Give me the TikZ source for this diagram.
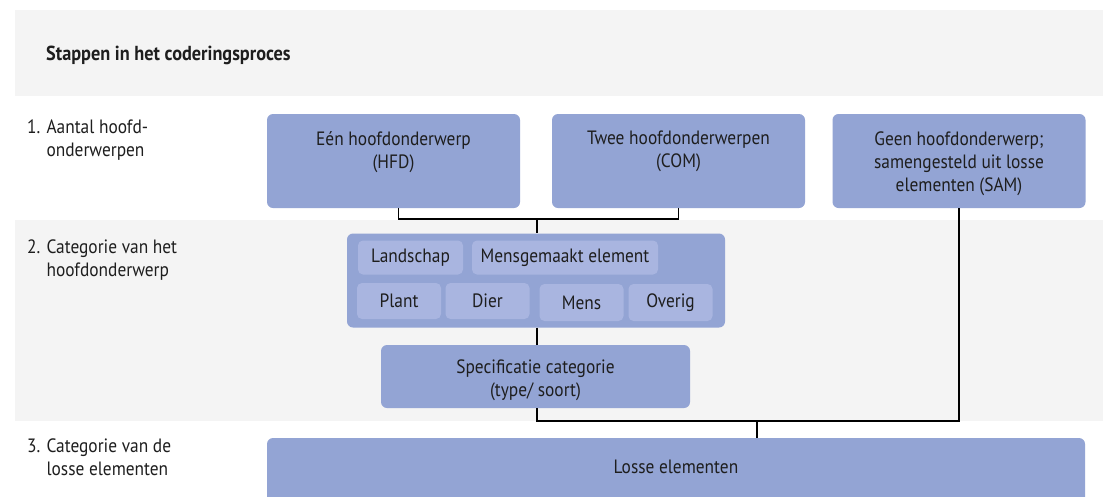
\documentclass[tikz,border=0pt]{standalone}
\usepackage{fontspec}
\setmainfont[FakeStretch=0.9]{PT Sans}
\definecolor{boxc}{RGB}{147,164,212}
\definecolor{innerc}{RGB}{169,181,224}
\definecolor{bandc}{RGB}{244,244,244}
\definecolor{txt}{RGB}{30,30,30}
\begin{document}
\begin{tikzpicture}[x=1pt,y=-1pt,
  every node/.style={font=\fontsize{19.3}{23}\selectfont, text=txt},
  box/.style={fill=boxc, rounded corners=6pt, inner sep=0pt},
  chip/.style={fill=innerc, rounded corners=5pt, inner sep=0pt},
  toptext/.style={anchor=north, align=center, yshift=-14pt},
  steplabel/.style={anchor=north west, align=left, inner sep=0pt},
  conn/.style={draw=black, line width=1.6pt}]
\clip (0,0) rectangle (1103,496);
\fill[white] (0,0) rectangle (1103,496);
% bands
\fill[bandc] (15,10) rectangle (1103,96);
\fill[bandc] (15,220) rectangle (1103,421);
% title
\node[anchor=west, inner sep=0pt, font=\fontsize{20.3}{24}\selectfont\bfseries] (title) at (46,55) {Stappen in het coderingsproces};
% step labels
\node[steplabel] (s1) at (27,120) {1. Aantal hoofd-\\\hphantom{1. }onderwerpen};
\node[steplabel] (s2) at (27,240) {2. Categorie van het\\\hphantom{2. }hoofdonderwerp};
\node[steplabel] (s3) at (27,439) {3. Categorie van de\\\hphantom{3. }losse elementen};
% row 1
\node[box, minimum width=253pt, minimum height=94pt,
  label={[toptext]north:{Eén hoofdonderwerp\\(HFD)}}] (hfd) at (393.5,161) {};
\node[box, minimum width=253pt, minimum height=94pt,
  label={[toptext]north:{Twee hoofdonderwerpen\\(COM)}}] (com) at (678.5,161) {};
\node[box, minimum width=253pt, minimum height=94pt,
  label={[toptext]north:{Geen hoofdonderwerp;\\samengesteld uit losse\\elementen (SAM)}}] (sam) at (959,161) {};
% category
\node[box, minimum width=378pt, minimum height=94pt] (cat) at (536,280.5) {};
\node[chip, minimum width=105pt, minimum height=34pt] (land) at (410.5,257.5) {Landschap};
\node[chip, minimum width=186pt, minimum height=34pt] (mens1) at (565,257.5) {Mensgemaakt element};
\node[chip, minimum width=84pt, minimum height=36pt] (plant) at (399,301) {Plant};
\node[chip, minimum width=84pt, minimum height=36pt] (dier) at (487.5,301) {Dier};
\node[chip, minimum width=84pt, minimum height=37pt] (mens) at (581.5,302.5) {Mens};
\node[chip, minimum width=84pt, minimum height=37pt] (overig) at (670.5,302.5) {Overig};
% spec
\node[box, minimum width=309pt, minimum height=63pt,
  label={[toptext, yshift=3pt]north:{Specificatie categorie\\(type/ soort)}}] (spec) at (535.5,376.5) {};
% losse
\node[box, minimum width=818pt, minimum height=90pt,
  label={[toptext, yshift=-5pt]north:{Losse elementen}}] (losse) at (676,483) {};
% connectors
\coordinate (j1) at (537,219);
\coordinate (j2) at (757,421);
\draw[conn] ([xshift=5pt]hfd.south) |- (j1) -| (com.south);
\draw[conn] (j1) -- (j1 |- cat.north);
\draw[conn] (cat.south -| j1) -- (spec.north -| j1);
\draw[conn] (spec.south -| j1) |- (j2) -| (sam.south);
\draw[conn] (j2) -- (j2 |- losse.north);
\end{tikzpicture}
\end{document}
